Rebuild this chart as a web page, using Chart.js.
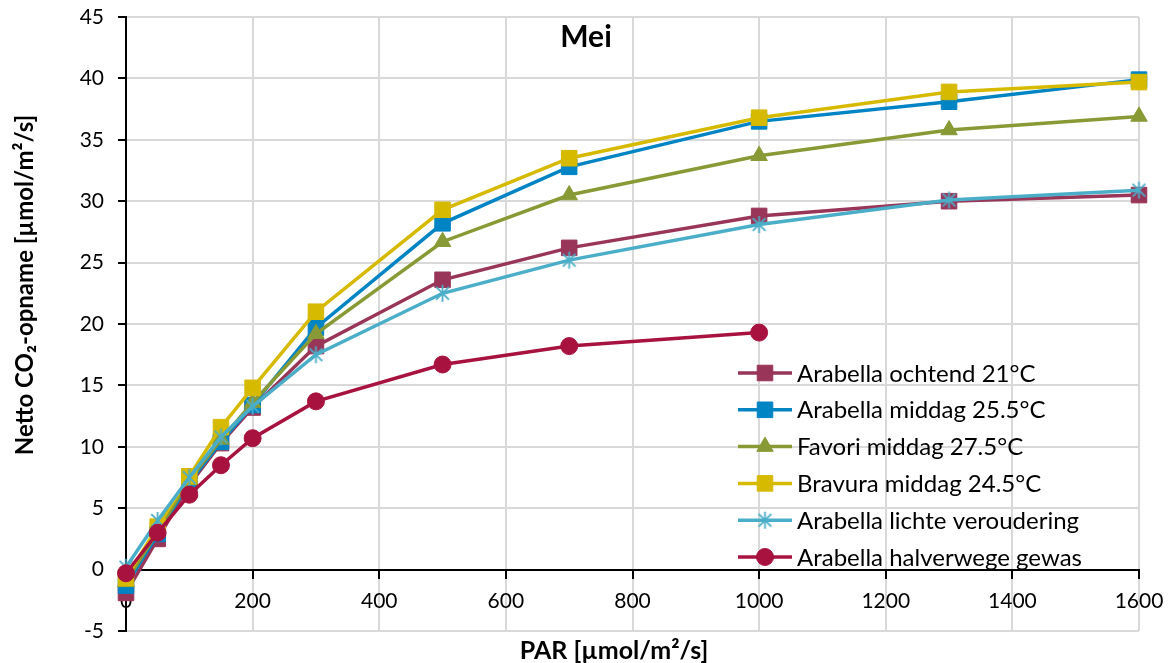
<!DOCTYPE html>
<html>
<head>
<meta charset="utf-8">
<script src="https://cdn.jsdelivr.net/npm/chart.js@4.4.0/dist/chart.umd.min.js"></script>
<style>
  html, body { margin: 0; padding: 0; background: #fff; }
  #wrap { width: 1174px; height: 663px; position: relative; }
</style>
</head>
<body>
<div id="wrap"><canvas id="grafiek"></canvas></div>
<script>
// PAR-waarden (x-as)
const par = [0, 50, 100, 150, 200, 300, 500, 700, 1000, 1300, 1600];

// netto CO2-opname per reeks
const ochtend21   = [-1.9, 2.5, 6.9, 10.3, 13.2, 18.2, 23.6, 26.2, 28.8, 30.0, 30.5];
const middag255   = [-1.3, 2.9, 7.1, 10.4, 13.4, 19.7, 28.2, 32.8, 36.5, 38.1, 39.9];
const favori275   = [-1.0, 3.1, 7.3, 10.6, 13.6, 19.2, 26.7, 30.5, 33.7, 35.8, 36.9];
const bravura245  = [-0.7, 3.5, 7.6, 11.6, 14.8, 21.0, 29.3, 33.5, 36.8, 38.9, 39.7];
const veroudering = [0.2, 4.0, 7.5, 10.8, 13.3, 17.5, 22.5, 25.2, 28.1, 30.1, 30.9];
const halverwege  = [-0.3, 3.0, 6.1, 8.5, 10.7, 13.7, 16.7, 18.2, 19.3];

const reeksNamen = [
  'Arabella ochtend 21°C',
  'Arabella middag 25.5°C',
  'Favori middag 27.5°C',
  'Bravura middag 24.5°C',
  'Arabella lichte veroudering',
  'Arabella halverwege gewas'
];

const titel = 'Mei';
const xTitel = 'PAR [µmol/m²/s]';
const yTitel = 'Netto CO₂-opname [µmol/m²/s]';

const xMin = 0, xMax = 1600, xStap = 200;
const yMin = -5, yMax = 45, yStap = 5;

const FONT = 'Lato, "Open Sans", sans-serif';

// sterretje zoals in Excel (x + verticale streep)
function maakSter(kleur, size) {
  const c = document.createElement('canvas');
  c.width = c.height = size;
  const g = c.getContext('2d');
  g.strokeStyle = kleur;
  g.lineWidth = 1.8;
  const m = size / 2, r = size / 2 - 1, d = r * 0.75;
  g.beginPath();
  g.moveTo(m, m - r); g.lineTo(m, m + r);
  g.moveTo(m - d, m - d); g.lineTo(m + d, m + d);
  g.moveTo(m - d, m + d); g.lineTo(m + d, m - d);
  g.stroke();
  return c;
}

function punten(reeks) {
  return reeks.map((y, i) => ({ x: par[i], y: y }));
}

function reeks(i, data, kleur, stijl, straal) {
  return {
    label: reeksNamen[i],
    data: punten(data),
    borderColor: kleur,
    backgroundColor: kleur,
    borderWidth: 3.5,
    pointStyle: stijl,
    pointRadius: straal,
    pointHoverRadius: straal,
    pointBorderWidth: 1,
    pointBorderColor: kleur,
    pointBackgroundColor: kleur,
    tension: 0,
    clip: false,
    order: 10 - i
  };
}

const datasets = [
  reeks(0, ochtend21, '#993558', 'rect', 11),
  reeks(1, middag255, '#0084C4', 'rect', 11),
  reeks(2, favori275, '#889A36', 'triangle', 9.5),
  reeks(3, bravura245, '#D6BA00', 'rect', 11),
  reeks(4, veroudering, '#4BAEC8', maakSter('#4BAEC8', 19), 9),
  reeks(5, halverwege, '#A8123F', 'circle', 8.5)
];

// titels en legenda zelf tekenen
const tekstPlugin = {
  id: 'teksten',
  afterDraw(chart) {
    const ctx = chart.ctx;
    const ca = chart.chartArea;
    ctx.save();
    ctx.fillStyle = '#000';

    ctx.font = 'bold 30px ' + FONT;
    ctx.textAlign = 'center';
    ctx.textBaseline = 'alphabetic';
    ctx.fillText(titel, ca.left + 460, ca.top + 30);

    ctx.font = 'bold 25px ' + FONT;
    ctx.fillText(xTitel, ca.left + 488, ca.bottom + 28);

    ctx.font = 'bold 24px ' + FONT;
    ctx.save();
    ctx.translate(33, ca.top + 268);
    ctx.rotate(-Math.PI / 2);
    ctx.fillText(yTitel, 0, 0);
    ctx.restore();

    // legenda
    const lx = ca.right - 401;
    const ly = ca.bottom - 258;
    const stap = 36.8;
    ctx.font = '24px ' + FONT;
    ctx.textAlign = 'left';
    chart.data.datasets.forEach((ds, i) => {
      const y = ly + i * stap;
      ctx.strokeStyle = ds.borderColor;
      ctx.lineWidth = ds.borderWidth;
      ctx.beginPath();
      ctx.moveTo(lx, y);
      ctx.lineTo(lx + 54, y);
      ctx.stroke();
      ctx.fillStyle = ds.pointBackgroundColor;
      ctx.strokeStyle = ds.pointBorderColor;
      ctx.lineWidth = ds.pointBorderWidth;
      Chart.helpers.drawPoint(ctx, {
        pointStyle: ds.pointStyle,
        radius: ds.pointRadius,
        borderWidth: ds.pointBorderWidth,
        rotation: 0
      }, lx + 27, y);
      ctx.fillStyle = '#000';
      ctx.fillText(ds.label, lx + 59, y + 8.6);
    });
    ctx.restore();
  }
};

const rasterKleur = (c) => c.tick && c.tick.value === 0 ? 'rgba(0,0,0,0)' : '#d9d9d9';

const config = {
  type: 'line',
  data: { datasets: datasets },
  options: {
    responsive: true,
    maintainAspectRatio: false,
    animation: false,
    events: [],
    layout: { padding: { left: 0, right: 35, top: 17, bottom: 32 } },
    plugins: {
      legend: { display: false },
      title: { display: false },
      tooltip: { enabled: false }
    },
    scales: {
      x: {
        type: 'linear',
        position: { y: 0 },
        min: xMin,
        max: xMax,
        afterFit: (s) => { s.paddingLeft = 0; s.paddingRight = 0; s.paddingTop = 0; s.paddingBottom = 0; },
        ticks: {
          stepSize: xStap,
          autoSkip: false,
          maxRotation: 0,
          padding: 11,
          color: '#000',
          font: { family: FONT, size: 21 },
          callback: (v) => String(v)
        },
        grid: {
          color: rasterKleur,
          lineWidth: 2,
          tickColor: '#000',
          tickLength: 8,
          tickWidth: 2
        },
        border: { color: '#000', width: 2 }
      },
      y: {
        type: 'linear',
        position: 'left',
        min: yMin,
        max: yMax,
        afterFit: (s) => { s.width = 126; s.paddingTop = 0; s.paddingBottom = 0; },
        ticks: {
          stepSize: yStap,
          padding: 14,
          color: '#000',
          font: { family: FONT, size: 21 },
          callback: (v) => String(v)
        },
        grid: {
          color: rasterKleur,
          lineWidth: 2,
          tickColor: '#000',
          tickLength: 8,
          tickWidth: 2
        },
        border: { color: '#000', width: 2 }
      }
    }
  },
  plugins: [tekstPlugin]
};

new Chart(document.getElementById('grafiek').getContext('2d'), config);
</script>
</body>
</html>
